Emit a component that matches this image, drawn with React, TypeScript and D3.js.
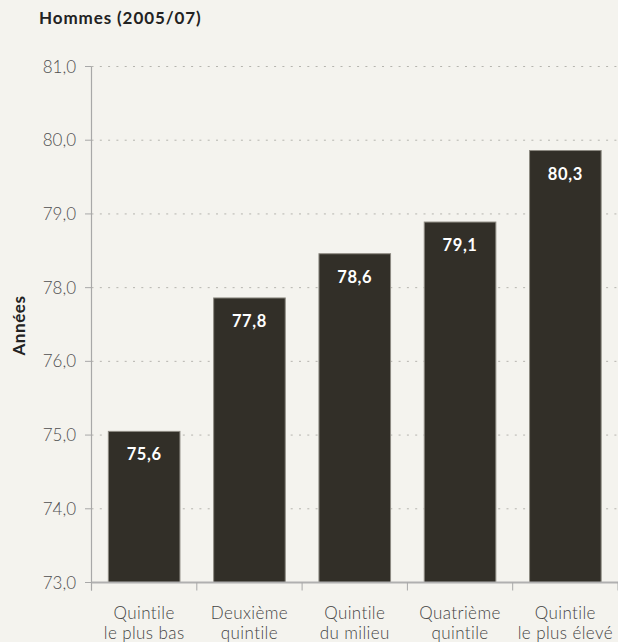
import React from "react";
import * as d3 from "d3";

const categories = [
  ["Quintile", "le plus bas"],
  ["Deuxième", "quintile"],
  ["Quintile", "du milieu"],
  ["Quatrième", "quintile"],
  ["Quintile", "le plus élevé"],
];
// values printed on the bars
const valueLabels = [75.6, 77.8, 78.6, 79.1, 80.3];
// bar tops as they sit against the (uneven) axis
const barLevels = [75.05, 77.72, 78.46, 78.89, 79.86];
const tickValues = [73, 74, 75, 76, 78, 79, 80, 81];

const W = 618;
const H = 642;
const fmt = (v: number) => v.toFixed(1).replace(".", ",");

export default function App() {
  const left = 91.5;
  const right = 618;
  const top = 66.5;
  const bottom = 582.5;

  const step = (bottom - top) / (tickValues.length - 1);
  const y = d3
    .scaleLinear()
    .domain(tickValues)
    .range(tickValues.map((_, i) => bottom - i * step));

  const x = d3
    .scaleBand<number>()
    .domain(categories.map((_, i) => i))
    .range([left, right])
    .paddingInner(0.32)
    .paddingOuter(0.16);
  const bandEdges = d3
    .range(categories.length + 1)
    .map((i) => left + i * ((right - left) / categories.length));

  const font = "Lato, 'Open Sans', sans-serif";

  return (
    <svg
      width={W}
      height={H}
      style={{ position: "absolute", left: 0, top: 0, display: "block" }}
      fontFamily={font}
    >
      <rect x={0} y={0} width={W} height={H} fill="#f4f3ee" />
      <text x={39} y={24} fontSize={17} fontWeight={700} fill="#222" letterSpacing={0.9}>
        Hommes (2005/07)
      </text>
      <text
        transform={`translate(25,${(top + bottom) / 2 + 1}) rotate(-90)`}
        textAnchor="middle"
        fontSize={17}
        fontWeight={700}
        fill="#222"
        letterSpacing={0.6}
      >
        Années
      </text>

      {tickValues.map((t) => (
        <g key={t}>
          {t !== 73 && (
            <line
              x1={left}
              x2={right}
              y1={y(t)}
              y2={y(t)}
              stroke="#b5b4ae"
              strokeWidth={1}
              strokeDasharray="2,6.3"
            />
          )}
          <line x1={85} x2={left} y1={y(t)} y2={y(t)} stroke="#a8a8a8" strokeWidth={1} />
          <text
            x={76}
            y={y(t)}
            dy="0.36em"
            textAnchor="end"
            fontSize={17}
            fontWeight={300}
            fill="#4e4e4e"
          >
            {fmt(t)}
          </text>
        </g>
      ))}

      {barLevels.map((v, i) => (
        <g key={i}>
          <rect
            x={x(i)!}
            y={y(v)}
            width={x.bandwidth()}
            height={bottom - y(v)}
            fill="#322f28"
            stroke="#8d8a82"
            strokeWidth={1}
          />
          <text
            x={x(i)! + x.bandwidth() / 2}
            y={y(v) + 29}
            textAnchor="middle"
            fontSize={16.5}
            fontWeight={700}
            fill="#fff"
            letterSpacing={0.6}
          >
            {fmt(valueLabels[i])}
          </text>
        </g>
      ))}

      <line x1={left} x2={left} y1={top} y2={bottom + 8} stroke="#a8a8a8" strokeWidth={1.2} />
      <line x1={left} x2={right} y1={bottom} y2={bottom} stroke="#b0b0b0" strokeWidth={2} />
      {bandEdges.map((e, i) => (
        <line key={i} x1={e} x2={e} y1={bottom} y2={bottom + 8} stroke="#a8a8a8" strokeWidth={1} />
      ))}

      {categories.map((c, i) => (
        <text
          key={i}
          textAnchor="middle"
          fontSize={17}
          fontWeight={300}
          fill="#444"
          letterSpacing={0.4}
        >
          <tspan x={x(i)! + x.bandwidth() / 2} y={619}>
            {c[0]}
          </tspan>
          <tspan x={x(i)! + x.bandwidth() / 2} y={639}>
            {c[1]}
          </tspan>
        </text>
      ))}
    </svg>
  );
}
